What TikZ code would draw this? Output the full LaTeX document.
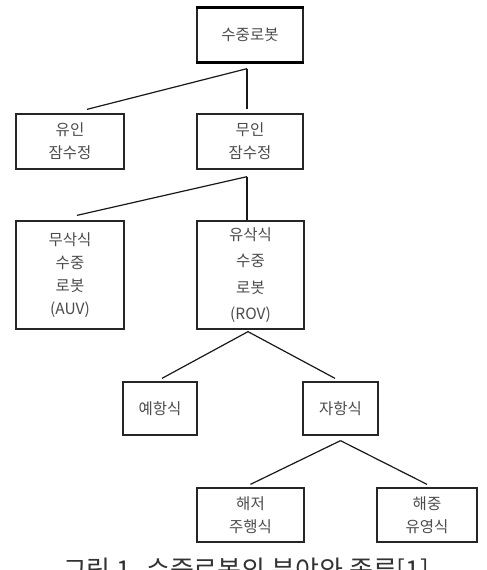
\documentclass[tikz,border=0pt]{standalone}
\usepackage{fontspec}
\newfontfamily\kr{Noto Sans CJK KR}
\begin{document}
\begin{tikzpicture}[x=1pt,y=-1pt,
  box/.style={draw=black!85,line width=1.3pt,rectangle,inner sep=0pt,align=center,
    text=black!70,font=\kr\fontsize{15.5}{23}\selectfont},
  conn/.style={draw=black!90,line width=1.2pt},
  captext/.style={font=\kr\fontsize{26}{26}\selectfont,text=black!80}]
\useasboundingbox (0,0) rectangle (487,570);
\clip (0,0) rectangle (487,570);
\fill[white] (0,0) rectangle (487,570);
% nodes
\node[box,minimum width=106pt,minimum height=54pt] (root) at (250,35) {수중로봇};
\node[box,minimum width=108pt,minimum height=55pt] (yuin) at (70,141.5) {유인\\잠수정};
\node[box,minimum width=106pt,minimum height=55pt] (muin) at (250,141.5) {무인\\잠수정};
\node[box,minimum width=108pt,minimum height=108pt] (auv) at (70,275) {무삭식\\수중\\로봇\\(AUV)};
\node[box,minimum width=107pt,minimum height=108pt,font=\kr\fontsize{15.5}{26.5}\selectfont] (rov) at (250.5,275) {유삭식\\수중\\로봇\\(ROV)};
\node[box,minimum width=74pt,minimum height=53pt] (yehang) at (160,408.5) {예항식};
\node[box,minimum width=75pt,minimum height=53pt] (jahang) at (340.5,408.5) {자항식};
\node[box,minimum width=107pt,minimum height=54pt] (haejeo) at (250.5,515) {해저\\주행식};
\node[box,minimum width=100pt,minimum height=54pt] (haejung) at (427,515) {해중\\유영식};
% thick top and bottom of root box
\draw[line width=3pt,black] (root.north west) -- (root.north east);
\draw[line width=3pt,black] (root.south west) -- (root.south east);
% connectors
\coordinate (j1) at ([xshift=-3pt,yshift=-6pt]root.south);
\draw[conn] (j1) -- ([xshift=17pt,yshift=4pt]yuin.north);
\draw[conn] (j1) -- ([xshift=-3pt,yshift=4pt]muin.north);
\coordinate (j2) at ([xshift=-3pt,yshift=-7pt]muin.south);
\draw[conn] (j2) -- ([xshift=7pt,yshift=5pt]auv.north);
\draw[conn] (j2) -- ([xshift=-3.5pt]rov.north);
\coordinate (j3) at ([xshift=-2.5pt,yshift=-2pt]rov.south);
\draw[conn] (j3) -- ([xshift=2pt,yshift=3pt]yehang.north);
\draw[conn] (j3) -- ([xshift=-5.5pt,yshift=3pt]jahang.north);
\coordinate (j4) at ([yshift=-5pt]jahang.south);
\draw[conn] (j4) -- ([yshift=3pt]haejeo.north);
\draw[conn] (j4) -- ([yshift=3pt]haejung.north);
% caption (cut off at bottom, as in the reference)
\node[captext,anchor=base] (caption) at (246,579) {그림 1. 수중로봇의 분야와 종류[1]};
\end{tikzpicture}
\end{document}
